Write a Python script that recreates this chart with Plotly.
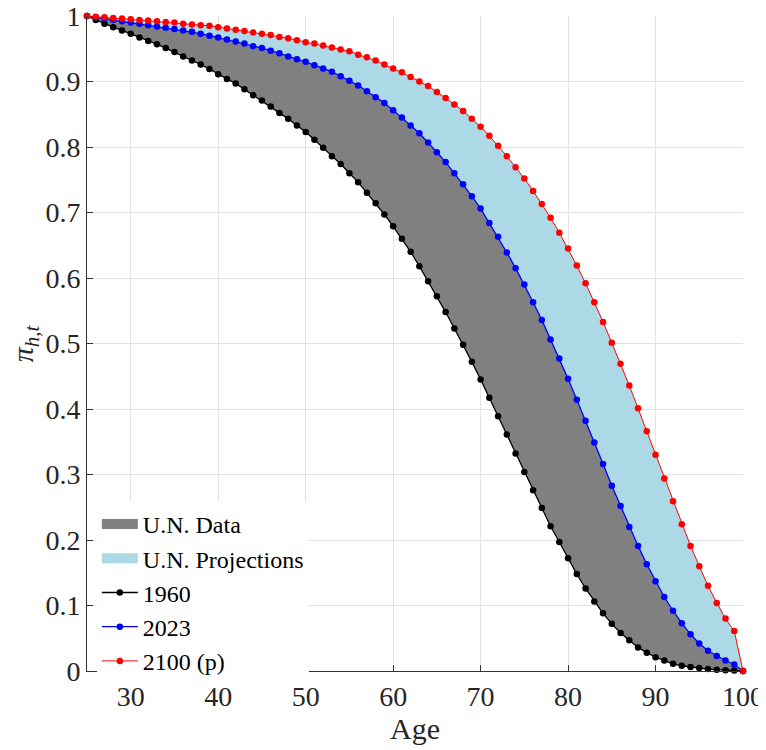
import plotly.graph_objects as go

ages = list(range(25, 101))

surv_1960 = [1.000, 0.994, 0.988, 0.983, 0.978, 0.973, 0.967, 0.962, 0.957, 0.951,
             0.945, 0.938, 0.932, 0.926, 0.919, 0.911, 0.904, 0.897, 0.888, 0.879,
             0.871, 0.862, 0.852, 0.843, 0.833, 0.823, 0.811, 0.799, 0.786, 0.774,
             0.760, 0.746, 0.730, 0.714, 0.697, 0.679, 0.660, 0.640, 0.618, 0.595,
             0.572, 0.548, 0.523, 0.498, 0.472, 0.445, 0.417, 0.389, 0.361, 0.332,
             0.304, 0.276, 0.249, 0.221, 0.197, 0.172, 0.148, 0.126, 0.106, 0.088,
             0.072, 0.058, 0.047, 0.036, 0.028, 0.021, 0.016, 0.011, 0.008, 0.006,
             0.0045, 0.003, 0.002, 0.0012, 0.0006, 0.0]

surv_2023 = [1.000, 0.998, 0.996, 0.994, 0.992, 0.990, 0.988, 0.986, 0.984, 0.982,
             0.980, 0.978, 0.976, 0.973, 0.970, 0.967, 0.964, 0.961, 0.958, 0.954,
             0.951, 0.947, 0.943, 0.938, 0.934, 0.930, 0.925, 0.920, 0.915, 0.908,
             0.901, 0.894, 0.885, 0.876, 0.867, 0.856, 0.845, 0.833, 0.821, 0.807,
             0.792, 0.777, 0.760, 0.743, 0.725, 0.706, 0.684, 0.663, 0.639, 0.615,
             0.590, 0.563, 0.536, 0.506, 0.477, 0.446, 0.414, 0.382, 0.349, 0.316,
             0.283, 0.252, 0.220, 0.191, 0.163, 0.137, 0.113, 0.092, 0.073, 0.056,
             0.042, 0.031, 0.023, 0.016, 0.010, 0.0]

surv_2100 = [1.000, 0.999, 0.998, 0.997, 0.996, 0.995, 0.994, 0.993, 0.992, 0.991,
             0.990, 0.988, 0.987, 0.986, 0.985, 0.983, 0.981, 0.979, 0.977, 0.975,
             0.973, 0.971, 0.968, 0.966, 0.963, 0.960, 0.958, 0.955, 0.952, 0.949,
             0.946, 0.941, 0.937, 0.932, 0.926, 0.920, 0.914, 0.907, 0.900, 0.893,
             0.884, 0.875, 0.865, 0.855, 0.843, 0.831, 0.817, 0.802, 0.786, 0.769,
             0.752, 0.733, 0.713, 0.692, 0.669, 0.645, 0.619, 0.592, 0.563, 0.533,
             0.501, 0.469, 0.436, 0.401, 0.366, 0.330, 0.294, 0.259, 0.224, 0.191,
             0.160, 0.130, 0.104, 0.080, 0.061, 0.0]

x_ticks = [30, 40, 50, 60, 70, 80, 90, 100]
y_ticks = [0, 0.1, 0.2, 0.3, 0.4, 0.5, 0.6, 0.7, 0.8, 0.9, 1]
y_tick_labels = ["0", "0.1", "0.2", "0.3", "0.4", "0.5", "0.6", "0.7", "0.8", "0.9", "1"]

FONT = "Liberation Serif"
AX = "#333333"
GRID = "#e3e3e3"
DATA_COLOR = "#808080"
PROJ_COLOR = "#add8e6"

fig = go.Figure()

# U.N. Data band (between 1960 and 2023)
fig.add_trace(go.Scatter(x=ages, y=surv_1960, mode="lines", line=dict(width=0),
                         showlegend=False, hoverinfo="skip"))
fig.add_trace(go.Scatter(x=ages, y=surv_2023, mode="lines", line=dict(width=0),
                         fill="tonexty", fillcolor=DATA_COLOR, name="U.N. Data",
                         showlegend=False))
# U.N. Projections band (between 2023 and 2100)
fig.add_trace(go.Scatter(x=ages, y=surv_2023, mode="lines", line=dict(width=0),
                         showlegend=False, hoverinfo="skip"))
fig.add_trace(go.Scatter(x=ages, y=surv_2100, mode="lines", line=dict(width=0),
                         fill="tonexty", fillcolor=PROJ_COLOR, name="U.N. Projections",
                         showlegend=False))

# legend swatches for the two bands
fig.add_trace(go.Scatter(x=[None], y=[None], mode="lines", name="U.N. Data",
                         line=dict(color=DATA_COLOR, width=16)))
fig.add_trace(go.Scatter(x=[None], y=[None], mode="lines", name="U.N. Projections",
                         line=dict(color=PROJ_COLOR, width=16)))

fig.add_trace(go.Scatter(x=ages, y=surv_1960, mode="lines+markers", name="1960",
                         line=dict(color="black", width=1.3),
                         marker=dict(color="black", size=6.5), cliponaxis=False))
fig.add_trace(go.Scatter(x=ages, y=surv_2023, mode="lines+markers", name="2023",
                         line=dict(color="blue", width=1.3),
                         marker=dict(color="blue", size=6.5), cliponaxis=False))
fig.add_trace(go.Scatter(x=ages, y=surv_2100, mode="lines+markers", name="2100 (p)",
                         line=dict(color="red", width=1.0),
                         marker=dict(color="red", size=6.5), cliponaxis=False))

fig.update_layout(
    width=758, height=742,
    margin=dict(l=79, r=23, t=8, b=79, autoexpand=False),
    paper_bgcolor="white", plot_bgcolor="white",
    font=dict(family=FONT, size=26, color="#262626"),
    legend=dict(x=0.015, y=0.258, xanchor="left", yanchor="top",
                bgcolor="white", borderwidth=0, traceorder="normal",
                font=dict(family=FONT, size=24, color="black"),
                itemwidth=36, tracegroupgap=0),
    xaxis=dict(range=[25, 100], tickvals=x_ticks, ticks="inside", ticklen=6,
               tickcolor=AX, showline=True, linecolor=AX, linewidth=1,
               showgrid=True, gridcolor=GRID, gridwidth=1, zeroline=False,
               tickfont=dict(size=28), automargin=False, ticklabeloverflow="allow",
               title=dict(text="Age", font=dict(size=30), standoff=2)),
    yaxis=dict(range=[0, 1], tickvals=y_ticks, ticktext=y_tick_labels,
               ticks="inside", ticklen=6, tickcolor=AX, showline=True,
               linecolor=AX, linewidth=1, showgrid=True, gridcolor=GRID,
               gridwidth=1, zeroline=False, tickfont=dict(size=28), automargin=False,
               ticklabeloverflow="allow"),
    annotations=[dict(text="<i>π</i><sub><i>h,t</i></sub>", xref="paper", yref="paper",
                      x=-0.095, y=0.5, xanchor="center", yanchor="middle",
                      textangle=-90, showarrow=False,
                      font=dict(family=FONT, size=30, color="#262626"))],
)

fig.write_html("out.html")
